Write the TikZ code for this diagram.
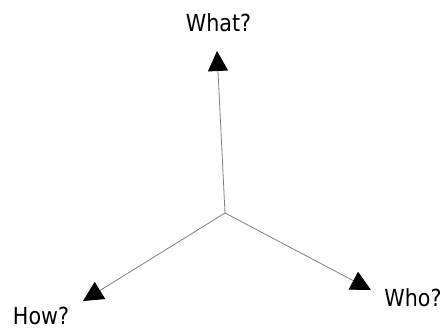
\documentclass[tikz,border=0pt]{standalone}
\usepackage{fontspec}
\newfontfamily\axisfont[FakeStretch=0.88]{DejaVu Sans}
\usetikzlibrary{%
	arrows.meta,%
	positioning,%
}
\tikzset{
	>=Triangle,%
	axis/.style={%
			draw=black!50,%
			line width=0.8pt,%
			-{Triangle[length=20pt,width=20pt,black]}},%
	axislabel/.style={%
			font={\axisfont\fontsize{23.5}{28}\selectfont},%
			inner sep=0pt},%
}

\begin{document}
\begin{tikzpicture}[x=1pt, y=-1pt]%
	\useasboundingbox (0,0) rectangle (448,333);

	\coordinate (o) at (225,213);
	\coordinate (whattip) at (217,51);
	\coordinate (howtip) at (83,301);
	\coordinate (whotip) at (371,290);

	\node[axislabel] (what) at (218.5,23) {What?};
	\node[axislabel] (how) at (41,316) {How?};
	\node[axislabel] (who) at (413,297.5) {Who?};

	\draw[axis] (o) to (whattip);
	\draw[axis] (o) to (howtip);
	\draw[axis] (o) to (whotip);
\end{tikzpicture}
\end{document}
